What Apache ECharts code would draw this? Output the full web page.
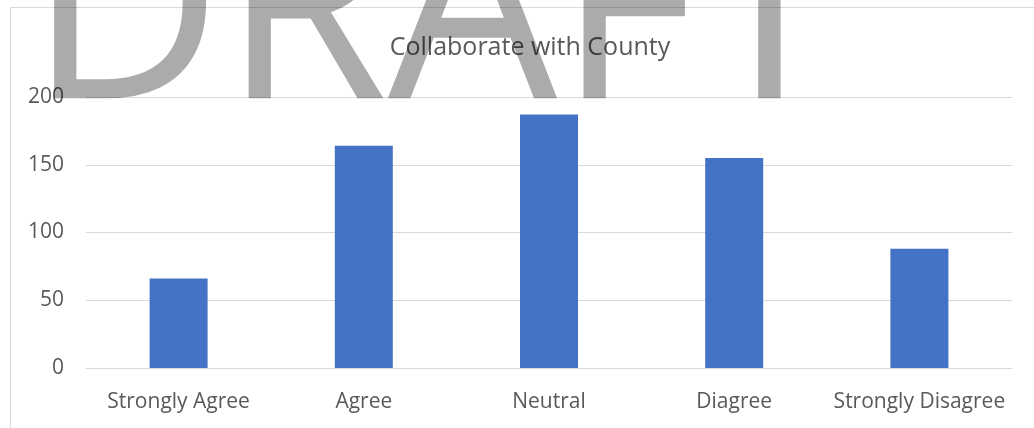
<!DOCTYPE html>
<html>
<head>
<meta charset="utf-8">
<script src="https://cdn.jsdelivr.net/npm/echarts@6/dist/echarts.min.js"></script>
<style>
  html, body { margin: 0; padding: 0; background: #fff; }
  #chart { width: 1034px; height: 428px; }
</style>
</head>
<body>
<div id="chart"></div>
<script>
// Survey responses: "Collaborate with County"
const categories = ['Strongly Agree', 'Agree', 'Neutral', 'Diagree', 'Strongly Disagree'];
const responses = [66, 164, 187, 155, 88];
const yTicks = [0, 50, 100, 150, 200];

const chart = echarts.init(document.getElementById('chart'));
const font = '"Open Sans", "Noto Sans", sans-serif';

chart.setOption({
  animation: false,
  title: {
    text: 'Collaborate with County',
    left: 525,
    textAlign: 'center',
    top: 30,
    textStyle: { fontFamily: font, fontSize: 25, fontWeight: 'normal', color: '#595959' }
  },
  grid: { left: 86, right: 22, top: 97, bottom: 60 },
  xAxis: {
    type: 'category',
    data: categories,
    axisLine: { lineStyle: { color: '#d9d9d9', width: 1 } },
    axisTick: { show: false },
    axisLabel: { interval: 0, hideOverlap: false, fontFamily: font, fontSize: 21, color: '#595959', margin: 24 }
  },
  yAxis: {
    type: 'value',
    min: yTicks[0],
    max: yTicks[yTicks.length - 1],
    interval: yTicks[1] - yTicks[0],
    axisLine: { show: false },
    axisTick: { show: false },
    splitLine: { lineStyle: { color: '#d9d9d9', width: 1 } },
    axisLabel: { fontFamily: font, fontSize: 21, color: '#595959', margin: 22 }
  },
  series: [{
    type: 'bar',
    data: responses,
    barWidth: 58,
    itemStyle: { color: '#4472c4' }
  }],
  graphic: [
    {
      // chart area frame
      type: 'rect',
      silent: true,
      shape: { x: 10.5, y: 7.5, width: 1100, height: 500 },
      style: { fill: 'none', stroke: '#d9d9d9', lineWidth: 1 },
      z: 0
    },
    {
      // watermark
      type: 'text',
      silent: true,
      z: 100,
      style: {
        text: 'DRAFT',
        x: 28,
        y: 156,
        verticalAlign: 'bottom',
        font: '268px "Open Sans", sans-serif',
        fill: 'rgba(0,0,0,0.33)'
      }
    }
  ]
});
</script>
</body>
</html>
